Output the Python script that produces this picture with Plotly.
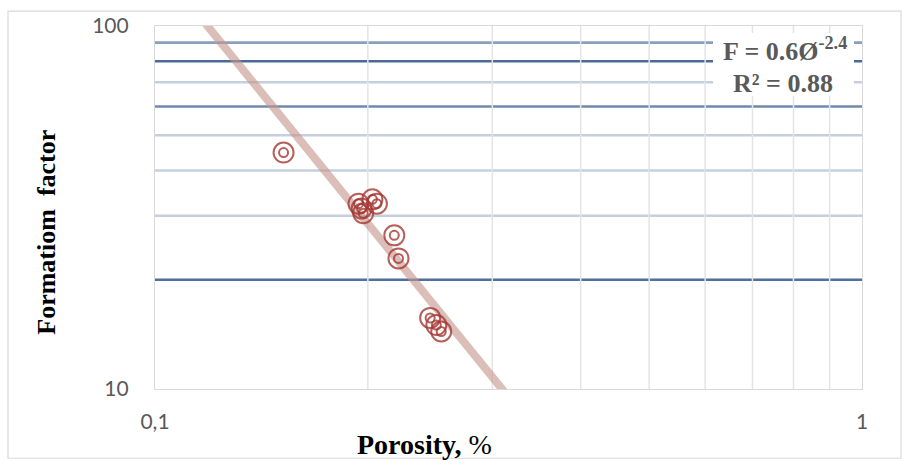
import numpy as np
import plotly.graph_objects as go

# Measured samples
porosity = [0.152, 0.194, 0.196, 0.197, 0.203, 0.206, 0.218, 0.221, 0.245, 0.250, 0.254]
formation_factor = [44.8, 32.4, 31.4, 30.5, 33.3, 32.4, 26.5, 22.9, 15.7, 15.0, 14.4]

# Power-law fit F = a * phi^b
fit_a = 0.6
fit_b = -2.4
r_squared = 0.88

x_ticks = [0.1, 1]
x_tick_text = ["0,1", "1"]
y_ticks = [10, 100]
y_tick_text = ["10", "100"]

grid_y = [20, 30, 40, 50, 60, 70, 80, 90]
grid_y_colors = ["#506f9d", "#c5d0de", "#c5d0de", "#c5d0de",
                 "#7088ae", "#c5d0de", "#4b6a99", "#8a9fbe"]
grid_x = [0.2, 0.3, 0.4, 0.5, 0.6, 0.7, 0.8, 0.9]

W, H = 903, 461
L, R, T, B = 155, 41, 22, 72
pw, ph = W - L - R, H - T - B


def px_x(p):
    return (p - L) / pw


def px_y(p):
    return (H - B - p) / ph


trend_x = np.array([0.1, 0.4])
trend_y = fit_a * trend_x ** fit_b

ring_color = "rgba(165,55,50,0.8)"

fig = go.Figure()

fig.add_trace(go.Scatter(
    x=trend_x, y=trend_y, mode="lines",
    line=dict(color="rgba(196,150,138,0.62)", width=8),
    hoverinfo="skip", showlegend=False,
))
fig.add_trace(go.Scatter(
    x=porosity, y=formation_factor, mode="markers",
    marker=dict(symbol="circle-open", size=20, color=ring_color,
                line=dict(color=ring_color, width=2)),
    showlegend=False,
))
fig.add_trace(go.Scatter(
    x=porosity, y=formation_factor, mode="markers",
    marker=dict(symbol="circle-open", size=9, color=ring_color,
                line=dict(color=ring_color, width=2)),
    showlegend=False,
))

shapes = []
for gy, col in zip(grid_y, grid_y_colors):
    shapes.append(dict(type="line", xref="paper", yref="y", x0=0, x1=1,
                       y0=gy, y1=gy, layer="below",
                       line=dict(color=col, width=2.6)))
for gx in grid_x:
    shapes.append(dict(type="line", xref="x", yref="paper", x0=gx, x1=gx,
                       y0=0, y1=1, layer="below",
                       line=dict(color="#e4e4e4", width=1.5)))
# white panel behind the fit equation
shapes.append(dict(type="rect", xref="paper", yref="paper",
                   x0=px_x(713), x1=px_x(854), y0=px_y(93), y1=px_y(29),
                   fillcolor="white", line=dict(width=0), layer="above"))
# chart border
shapes.append(dict(type="rect", xref="paper", yref="paper",
                   x0=px_x(8), x1=px_x(901), y0=px_y(459), y1=px_y(7),
                   fillcolor="rgba(0,0,0,0)", line=dict(color="#d9d9d9", width=1.2),
                   layer="above"))

eq_font = dict(family="Liberation Serif", size=26, color="#595959")

annotations = [
    dict(xref="paper", yref="paper", x=px_x(785), y=px_y(46),
         text=f"<b>F = {fit_a:g}Ø<sup>{fit_b:g}</sup></b>", showarrow=False,
         font=eq_font, xanchor="center", yanchor="middle"),
    dict(xref="paper", yref="paper", x=px_x(783), y=px_y(80),
         text=f"<b>R² = {r_squared:.2f}</b>", showarrow=False,
         font=eq_font, xanchor="center", yanchor="middle"),
    dict(xref="paper", yref="paper", x=px_x(424), y=px_y(445),
         text="<b>Porosity,</b> %", showarrow=False,
         font=dict(family="Liberation Serif", size=28, color="black"),
         xanchor="center", yanchor="middle"),
    dict(xref="paper", yref="paper", x=px_x(47), y=px_y(231),
         text="<b>Formatiom  factor</b>", showarrow=False, textangle=-90,
         font=dict(family="Liberation Serif", size=26, color="black"),
         xanchor="center", yanchor="middle"),
]

tick_font = dict(family="Lato", size=21, color="#595959")

fig.update_layout(
    width=W, height=H,
    margin=dict(l=L, r=R, t=T, b=B),
    paper_bgcolor="white", plot_bgcolor="white",
    shapes=shapes, annotations=annotations,
    xaxis=dict(type="log", range=[-1, 0], tickvals=x_ticks, ticktext=x_tick_text,
               showgrid=False, zeroline=False, showline=True, mirror=True,
               linecolor="#d9d9d9", linewidth=1.2,
               ticks="outside", ticklen=14, tickcolor="rgba(0,0,0,0)",
               tickfont=tick_font),
    yaxis=dict(type="log", range=[1, 2], tickvals=y_ticks, ticktext=y_tick_text,
               showgrid=False, zeroline=False, showline=True, mirror=True,
               linecolor="#d9d9d9", linewidth=1.2,
               ticks="outside", ticklen=21, tickcolor="rgba(0,0,0,0)",
               tickfont=tick_font),
)

fig.write_html("out.html")
